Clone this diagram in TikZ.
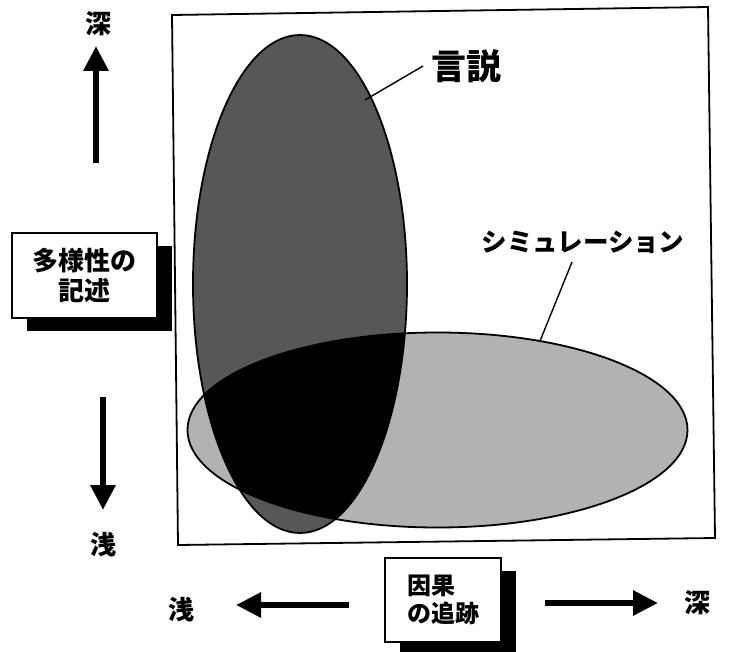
\documentclass[tikz,border=0pt]{standalone}
\usepackage{fontspec}
\newfontfamily\jp{Noto Sans CJK JP}
\usetikzlibrary{arrows.meta,shadows}
\begin{document}
\begin{tikzpicture}[x=1pt,y=-1pt,
  lbl/.style={font=\jp\bfseries\fontsize{26}{30}\selectfont, inner sep=0pt},
  bigarrow/.style={line width=6pt, -{Triangle[length=25pt,width=24pt]}},
  shadowbox/.style={draw, line width=1.3pt, fill=white, inner sep=0pt,
    drop shadow={shadow xshift=15pt, shadow yshift=-13pt, fill=black, opacity=1}},
  leader/.style={line width=1.4pt},
  outline/.style={line width=1.8pt}]
\useasboundingbox (0,0) rectangle (731,652);

% frame
\draw[line width=1.8pt] (172,15) -- (708,7) -- (715,538) -- (178,545) -- cycle;

% ellipses
\fill[black!30] (437.5,430) ellipse [x radius=250, y radius=97.5];
\fill[black!66] (300,284) ellipse [x radius=107, y radius=249];
\begin{scope}
  \clip (437.5,430) ellipse [x radius=250, y radius=97.5];
  \fill[black] (300,284) ellipse [x radius=107, y radius=249];
\end{scope}
\draw[outline] (437.5,430) ellipse [x radius=250, y radius=97.5];
\draw[outline] (300,284) ellipse [x radius=107, y radius=249];

% labels in frame
\node[lbl, font=\jp\bfseries\fontsize{35}{40}\selectfont, anchor=west] (gensetsu) at (431,66) {言説};
\node[lbl, font=\jp\bfseries\fontsize{25.5}{30}\selectfont] (sim) at (583,242) {シミュレーション};
\coordinate (gE) at (365,100);
\coordinate (sE) at (540,341);
\draw[leader] (423,66) -- (gE);
\draw[leader] (572,262) -- (sE);

% left axis
\node[lbl] (deepL) at (98,24) {深};
\coordinate (upS) at (96,163);
\coordinate (upT) at (96,46);
\draw[bigarrow] (upS) -- (upT);

\node[shadowbox, minimum width=145pt, minimum height=85pt, align=center,
      font=\jp\bfseries\fontsize{26}{30}\selectfont] (desc) at (84.5,275.5) {多様性の\\記述};

\coordinate (dnS) at (103,397);
\coordinate (dnT) at (103,510);
\draw[bigarrow] (dnS) -- (dnT);
\node[lbl] (shallowL) at (103,545) {浅};

% bottom axis
\node[shadowbox, minimum width=116pt, minimum height=84pt, align=left,
      font=\jp\bfseries\fontsize{24}{28}\selectfont] (cause) at (443,600) {因果\\の追跡};
\node[lbl] (shallowB) at (181,610) {浅};
\coordinate (lS) at (349,605);
\coordinate (lT) at (236,605);
\draw[bigarrow] (lS) -- (lT);
\coordinate (rS) at (545,603);
\coordinate (rT) at (658,603);
\draw[bigarrow] (rS) -- (rT);
\node[lbl] (deepB) at (697,603) {深};
\end{tikzpicture}
\end{document}
